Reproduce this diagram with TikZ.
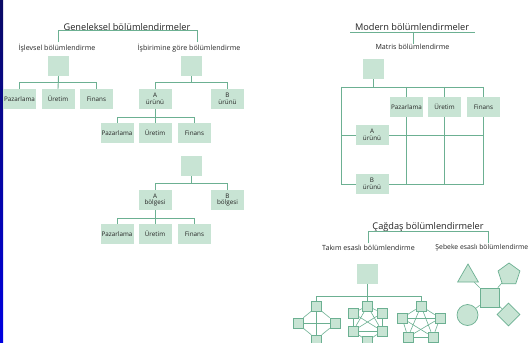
\documentclass[tikz,border=0pt]{standalone}
\usepackage{fontspec}
\setmainfont{Open Sans}
\usetikzlibrary{shapes.geometric}
\pgfdeclarelayer{bottom}
\pgfdeclarelayer{back}
\pgfsetlayers{bottom,back,main}
\definecolor{boxc}{RGB}{200,228,212}
\definecolor{linec}{RGB}{108,176,146}
\definecolor{txtc}{RGB}{35,35,35}
\definecolor{navyc}{RGB}{10,10,100}
\definecolor{bluec}{RGB}{0,0,225}
\tikzset{
  ttl/.style={font=\fontsize{9.2}{10}\selectfont, text=txtc, inner sep=0pt},
  sub/.style={font=\fontsize{7.1}{8}\selectfont, text=txtc, inner sep=0pt},
  box/.style={fill=boxc, minimum width=33pt, minimum height=20pt, inner sep=0pt,
    align=center, font=\fontsize{6.3}{6.6}\selectfont, text=txtc},
  sqbox/.style={fill=boxc, minimum width=21pt, minimum height=20pt, inner sep=0pt},
  smbox/.style={fill=boxc, draw=linec, line width=0.6pt, minimum size=10pt, inner sep=0pt},
  netshape/.style={fill=boxc, draw=linec, line width=0.7pt, inner sep=0pt},
  ln/.style={draw=linec, line width=0.9pt},
  thin/.style={draw=linec, line width=0.6pt},
}
\begin{document}
\begin{tikzpicture}[x=1pt,y=-1pt]
\begin{pgfonlayer}{bottom}
\fill[white] (0,0) rectangle (529,342);
\shade[top color=navyc, bottom color=bluec] (0,0) rectangle (3,342);
\end{pgfonlayer}
\useasboundingbox (0,0) rectangle (529,342);
\clip (0,0) rectangle (529,342);

% ---------- Geleneksel ----------
\node[ttl] (t1) at (127,27) {Geneleksel bölümlendirmeler};
\coordinate (b1l) at (58,42);
\coordinate (b1r) at (197,42);
\draw[ln] (b1l) -- (b1l |- t1.south) -- (b1r |- t1.south) -- (b1r);
\node[sub] (s1) at (57,48) {İşlevsel bölümlendirme};
\node[sub] (s2) at (189,48) {İşbirimine göre bölümlendirme};

% tree 1
\node[sqbox] (f0) at (58.5,66) {};
\node[box] (f1) at (19.5,99) {Pazarlama};
\node[box] (f2) at (58,99) {Üretim};
\node[box] (f3) at (96.5,99) {Finans};
\draw[ln] (f0.south) -- ++(0,6) -| (f1.north);
\draw[ln] (f0.south) -- ++(0,6) -| (f3.north);
\draw[ln] (f0.south) -- (f2.north);

% tree 2
\node[sqbox] (p0) at (191,66) {};
\node[box] (pa) at (155,99) {A\\ürünü};
\node[box] (pb) at (227.5,99) {B\\ürünü};
\draw[ln] (p0.south) -- ++(0,6) -| (pa.north);
\draw[ln] (p0.south) -- ++(0,6) -| (pb.north);
\node[box] (pa1) at (117,133) {Pazarlama};
\node[box] (pa2) at (155,133) {Üretim};
\node[box] (pa3) at (194.5,133) {Finans};
\draw[ln] (pa.south) -- ++(0,8) -| (pa1.north);
\draw[ln] (pa.south) -- ++(0,8) -| (pa3.north);
\draw[ln] (pa.south) -- (pa2.north);

% tree 3
\node[sqbox] (r0) at (191,166) {};
\node[box] (ra) at (155,200) {A\\bölgesi};
\node[box] (rb) at (227.5,200) {B\\bölgesi};
\draw[ln] (r0.south) -- ++(0,7) -| (ra.north);
\draw[ln] (r0.south) -- ++(0,7) -| (rb.north);
\node[box] (ra1) at (117,234) {Pazarlama};
\node[box] (ra2) at (155,234) {Üretim};
\node[box] (ra3) at (194.5,234) {Finans};
\draw[ln] (ra.south) -- ++(0,8) -| (ra1.north);
\draw[ln] (ra.south) -- ++(0,8) -| (ra3.north);
\draw[ln] (ra.south) -- (ra2.north);

% ---------- Modern ----------
\node[ttl] (t2) at (412,27) {Modern bölümlendirmeler};
\coordinate (u2l) at (350,32);
\coordinate (u2r) at (475,32);
\coordinate (u2m) at (413,32);
\node[sub] (m1) at (412.5,47) {Matris bölümlendirme};
\draw[ln] (u2l) -- (u2r);
\draw[ln] (u2m) -- (u2m |- m1.north);

\node[sqbox] (m0) at (373,69) {};
\node[box] (mc1) at (406.5,107) {Pazarlama};
\node[box] (mc2) at (444.5,107) {Üretim};
\node[box] (mc3) at (483.5,107) {Finans};
\node[box] (mr1) at (372,135) {A\\ürünü};
\node[box] (mr2) at (372,184) {B\\ürünü};
\coordinate (gtl) at (341,87);
\begin{pgfonlayer}{back}
\draw[ln] (m0.south) -- (m0.south |- gtl);
\draw[ln] (gtl) -- (gtl -| mc3);
\draw[ln] (gtl) -- (gtl |- mr2);
\draw[ln] (gtl |- mr1) -- (mc3 |- mr1);
\draw[ln] (gtl |- mr2) -- (mc3 |- mr2);
\draw[ln] (gtl -| mc1) -- (mc1 |- mr2);
\draw[ln] (gtl -| mc2) -- (mc2 |- mr2);
\draw[ln] (gtl -| mc3) -- (mc3 |- mr2);
\end{pgfonlayer}

% ---------- Cagdas ----------
\node[ttl] (t3) at (428,227) {Çağdaş bölümlendirmeler};
\coordinate (b3l) at (368,243);
\coordinate (b3r) at (488,243);
\draw[ln] (b3l) -- (b3l |- t3.south) -- (b3r |- t3.south) -- (b3r);
\node[sub] (s3) at (368.5,248) {Takım esaslı bölümlendirme};
\node[sub, anchor=east, font=\fontsize{6.8}{8}\selectfont] (s4) at (528.5,248) {Şebeke esaslı bölümlendirme};

% team
\node[sqbox] (k0) at (367.5,274) {};
\node[smbox] (a1) at (316.5,306) {};
\node[smbox] (a2) at (298,323) {};
\node[smbox] (a3) at (335,323) {};
\node[smbox] (a4) at (316.5,340) {};
\node[smbox] (b1) at (367.5,306) {};
\node[smbox] (b2) at (353,313) {};
\node[smbox] (b3) at (382,313) {};
\node[smbox] (b4) at (353,331) {};
\node[smbox] (b5) at (382,331) {};
\node[smbox] (b6) at (367.5,341) {};
\node[smbox] (c1) at (421,306) {};
\node[smbox] (c2) at (402,318) {};
\node[smbox] (c3) at (440,318) {};
\node[smbox] (c4) at (408,337) {};
\node[smbox] (c5) at (433,337) {};
\draw[ln] (k0.south) -- ++(0,12) -| (a1.north);
\draw[ln] (k0.south) -- ++(0,12) -| (c1.north);
\draw[ln] (k0.south) -- (b1.north);
% team 1
\draw[thin] (a1.south west) -- (a2.north east);
\draw[thin] (a2.south east) -- (a4.north west);
\draw[thin] (a4.north east) -- (a3.south west);
\draw[thin] (a3.north west) -- (a1.south east);
\draw[thin] (a1) -- (a4);
\draw[thin] (a2) -- (a3);
% team 2
\draw[thin] (b1) -- (b2);
\draw[thin] (b1) -- (b3);
\draw[thin] (b2) -- (b4);
\draw[thin] (b3) -- (b5);
\draw[thin] (b4) -- (b6);
\draw[thin] (b5) -- (b6);
\draw[thin] (b1) -- (b4);
\draw[thin] (b1) -- (b5);
\draw[thin] (b2) -- (b5);
\draw[thin] (b3) -- (b4);
\draw[thin] (b4) -- (b5);
% team 3
\draw[thin] (c1) -- (c2);
\draw[thin] (c2) -- (c4);
\draw[thin] (c4) -- (c5);
\draw[thin] (c5) -- (c3);
\draw[thin] (c3) -- (c1);
\draw[thin] (c1) -- (c4);
\draw[thin] (c1) -- (c5);
\draw[thin] (c2) -- (c3);
\draw[thin] (c2) -- (c5);
\draw[thin] (c3) -- (c4);

% network
\node[netshape, minimum size=19pt] (n0) at (489.5,297.5) {};
\node[netshape, regular polygon, regular polygon sides=3, minimum size=24pt] (n1) at (468,276) {};
\node[netshape, regular polygon, regular polygon sides=5, minimum size=23pt] (n2) at (509,274.5) {};
\node[netshape, circle, minimum size=21pt] (n3) at (467.5,315) {};
\node[netshape, diamond, minimum width=23pt, minimum height=23pt] (n4) at (508.5,314.5) {};
\draw[thin] (n0) -- (n1);
\draw[thin] (n0) -- (n2);
\draw[thin] (n0) -- (n3);
\draw[thin] (n0) -- (n4);
\end{tikzpicture}
\end{document}
